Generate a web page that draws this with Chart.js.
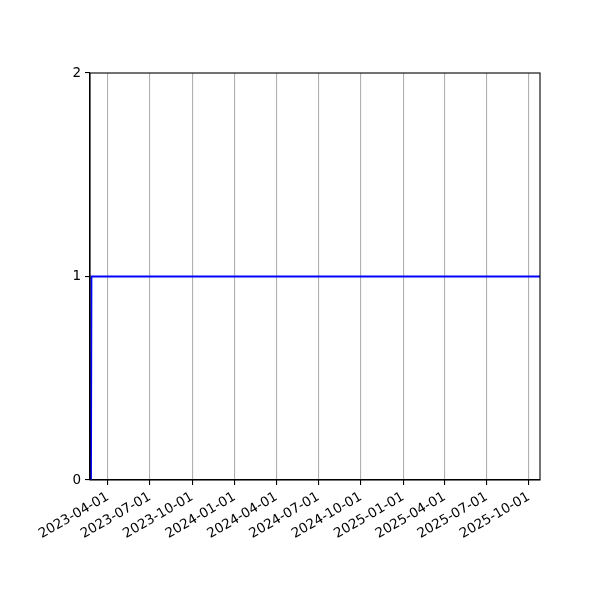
<!DOCTYPE html>
<html>
<head>
<meta charset="utf-8">
<script src="https://cdn.jsdelivr.net/npm/chart.js@4"></script>
<style>
  body { margin: 0; background: #fff; }
  canvas { display: block; }
</style>
</head>
<body>
<canvas id="chart" width="600" height="600"></canvas>
<script>
// data
const dates = ['2023-02-23', '2023-02-24', '2025-10-25'];
const values = [0, 1, 1];
const tickDates = ['2023-04-01', '2023-07-01', '2023-10-01', '2024-01-01', '2024-04-01', '2024-07-01',
  '2024-10-01', '2025-01-01', '2025-04-01', '2025-07-01', '2025-10-01'];
const yTicks = [0, 1, 2];
const xMinDate = '2023-02-21';
const xMaxDate = '2025-10-25';

const day = d => Date.parse(d + 'T00:00:00Z') / 86400000;
const fmt = v => new Date(Math.round(v) * 86400000).toISOString().slice(0, 10);

const points = dates.map((d, i) => ({ x: day(d), y: values[i] }));

// box around the plot like matplotlib spines
const frame = {
  id: 'frame',
  afterDraw(chart) {
    const a = chart.chartArea, c = chart.ctx;
    c.save();
    c.strokeStyle = '#000';
    c.lineWidth = 1.1;
    c.strokeRect(a.left, a.top, a.right - a.left, a.bottom - a.top);
    c.restore();
  }
};

Chart.defaults.font.family = 'DejaVu Sans';
Chart.defaults.font.size = 13.5;
Chart.defaults.color = '#000';

new Chart(document.getElementById('chart'), {
  type: 'line',
  data: {
    datasets: [{
      data: points,
      borderColor: '#0000ff',
      borderWidth: 2,
      pointRadius: 0,
      tension: 0,
      fill: false
    }]
  },
  options: {
    responsive: false,
    devicePixelRatio: 1,
    animation: false,
    layout: { padding: { left: 0, top: 73, right: 60, bottom: 0 } },
    plugins: { legend: { display: false }, tooltip: { enabled: false } },
    scales: {
      x: {
        type: 'linear',
        min: day(xMinDate),
        max: day(xMaxDate),
        afterFit: s => { s.height = 120; },
        afterBuildTicks: s => { s.ticks = tickDates.map(d => ({ value: day(d) })); },
        ticks: {
          minRotation: 30,
          maxRotation: 30,
          autoSkip: false,
          padding: 4,
          callback: v => fmt(v)
        },
        grid: { color: '#b0b0b0', lineWidth: 1.1, tickLength: 5, tickColor: '#000' },
        border: { color: '#000', width: 1.1 }
      },
      y: {
        min: 0,
        max: 2,
        afterFit: s => { s.width = 90; },
        afterBuildTicks: s => { s.ticks = yTicks.map(v => ({ value: v })); },
        ticks: { padding: 4 },
        grid: { drawOnChartArea: false, tickLength: 5, tickColor: '#000', lineWidth: 1.1 },
        border: { color: '#000', width: 1.1 }
      }
    }
  },
  plugins: [frame]
});
</script>
</body>
</html>
